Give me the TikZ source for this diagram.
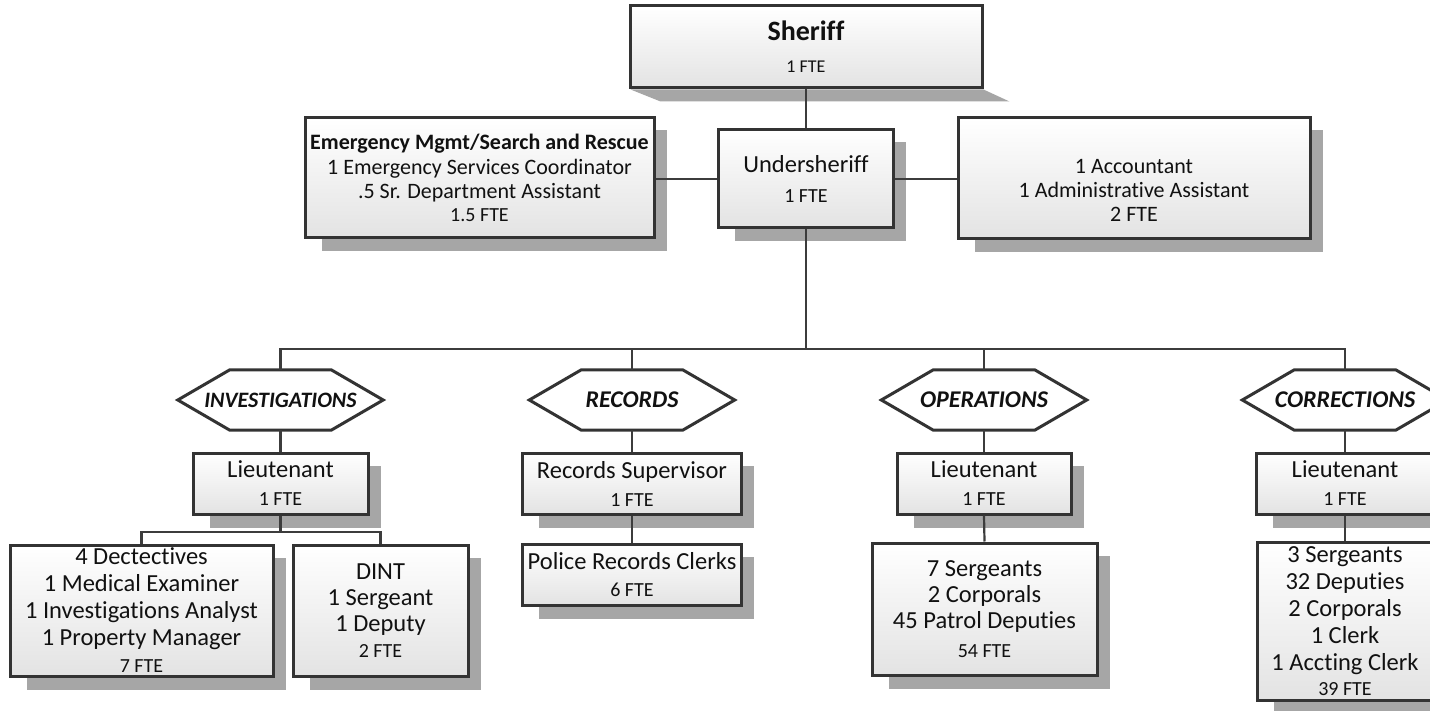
\documentclass[tikz,border=0pt]{standalone}
\usepackage{fontspec}
\setmainfont{Carlito}[Ligatures=NoCommon]
\usetikzlibrary{calc,backgrounds}

\definecolor{frame}{HTML}{333333}
\definecolor{wire}{HTML}{3C3C3C}
\definecolor{shadowgray}{HTML}{A6A6A6}
\definecolor{boxlow}{HTML}{E3E3E3}
\definecolor{ink}{HTML}{111111}

\newcommand\bodysize{\fontsize{24.5pt}{27pt}\selectfont}
\newcommand\ftesize{\fontsize{20pt}{22pt}\selectfont}

% offset shadow behind a box
\newcommand\castshadow[1]{%
  \fill[shadowgray] ($(#1.north east)+(11,14)$) rectangle ($(#1.south west)+(18,12)$);}
% hexagonal frame around a division label
\newcommand\hexframe[1]{%
  \draw[hexline] (#1.west) -- ([xshift=52pt]#1.north west) -- ([xshift=-52pt]#1.north east)
    -- (#1.east) -- ([xshift=-52pt]#1.south east) -- ([xshift=52pt]#1.south west) -- cycle;}

\tikzset{
  orgbox/.style={draw=frame, line width=3pt, top color=white, bottom color=boxlow,
    align=center, inner sep=0pt, text=ink, font=\bodysize},
  division/.style={inner sep=0pt, minimum width=205pt, minimum height=60pt,
    text=ink, font=\fontsize{24pt}{26pt}\selectfont\bfseries\itshape},
  hexline/.style={draw=frame, line width=3pt, line join=miter},
  link/.style={draw=wire, line width=2.2pt},
}

\begin{document}
\begin{tikzpicture}[x=1pt,y=-1pt]
\useasboundingbox (0,0) rectangle (1430,711);
\clip (0,0) rectangle (1430,711);

% top level
\node[orgbox, minimum width=352pt, minimum height=82pt, font=\fontsize{28pt}{32pt}\selectfont]
  (sheriff) at (806,47) {\bfseries Sheriff\\{\fontsize{18pt}{32pt}\selectfont 1 FTE}};
\node[orgbox, minimum width=175pt, minimum height=98pt, font=\fontsize{24.5pt}{30pt}\selectfont]
  (under) at (806,179) {Undersheriff\\{\ftesize 1 FTE}};
\node[orgbox, minimum width=349pt, minimum height=120pt, font=\fontsize{22pt}{24.5pt}\selectfont]
  (emerg) at (479.5,178)
  {\bfseries Emergency Mgmt/Search and Rescue\\
   1 Emergency Services Coordinator\\
   .5 Sr. Department Assistant\\[-2pt]
   {\ftesize 1.5 FTE}};
\node[orgbox, minimum width=352pt, minimum height=121pt] (acct) at (1134,178.5) {};
\node[align=center, text=ink, font=\fontsize{22pt}{24pt}\selectfont, yshift=-12pt]
  (accttext) at (acct.center) {1 Accountant\\1 Administrative Assistant\\2 FTE};

% divisions
\node[division, font=\fontsize{22pt}{24pt}\selectfont\bfseries\itshape] (inv) at (280.5,400) {INVESTIGATIONS};
\node[division] (rec) at (632,400) {RECORDS};
\node[division] (ops) at (984,400) {OPERATIONS};
\node[division] (cor) at (1345,400) {CORRECTIONS};
\hexframe{inv}
\hexframe{rec}
\hexframe{ops}
\hexframe{cor}

% unit heads
\node[orgbox, minimum width=175pt, minimum height=61pt, font=\fontsize{24.5pt}{28pt}\selectfont]
  (invlt) at (280.5,483.5) {Lieutenant\\{\ftesize 1 FTE}};
\node[orgbox, minimum width=219pt, minimum height=61pt, font=\fontsize{24.5pt}{28pt}\selectfont]
  (recsup) at (632,483.5) {Records Supervisor\\{\ftesize 1 FTE}};
\node[orgbox, minimum width=174pt, minimum height=61pt, font=\fontsize{24.5pt}{28pt}\selectfont]
  (opslt) at (984,483.5) {Lieutenant\\{\ftesize 1 FTE}};
\node[orgbox, minimum width=178pt, minimum height=61pt, font=\fontsize{24.5pt}{28pt}\selectfont]
  (corlt) at (1345,483.5) {Lieutenant\\{\ftesize 1 FTE}};

% staff boxes
\node[orgbox, minimum width=263pt, minimum height=131pt] (dect) at (141.5,610.5)
  {4 Dectectives\\1 Medical Examiner\\1 Investigations Analyst\\1 Property Manager\\{\ftesize 7 FTE}};
\node[orgbox, minimum width=175pt, minimum height=131pt, font=\fontsize{24.5pt}{26pt}\selectfont]
  (dint) at (380.5,610.5) {DINT\\1 Sergeant\\1 Deputy\\{\ftesize 2 FTE}};
\node[orgbox, minimum width=219pt, minimum height=61pt] (clerks) at (632,575)
  {Police Records Clerks\\{\ftesize 6 FTE}};
\node[orgbox, minimum width=225pt, minimum height=132pt, font=\fontsize{24.5pt}{26pt}\selectfont]
  (opsstaff) at (984.5,609) {7 Sergeants\\2 Corporals\\45 Patrol Deputies\\[3pt]{\ftesize 54 FTE}};
\node[orgbox, minimum width=176pt, minimum height=158pt] (corstaff) at (1345,621)
  {3 Sergeants\\32 Deputies\\2 Corporals\\1 Clerk\\1 Accting Clerk\\[-2pt]{\ftesize 39 FTE}};

% connectors
\coordinate (bus) at (806,349);
\coordinate (ibus) at (280.5,532);
\draw[link] (sheriff.south) -- (under.north);
\draw[link] (emerg.east |- under.west) -- (under.west);
\draw[link] (under.east) -- (acct.west |- under.east);
\draw[link] (under.south) -- (bus);
\draw[link] (inv.north) -- (inv.north |- bus) -- (cor.north |- bus) -- (cor.north);
\draw[link] (rec.north) -- (rec.north |- bus);
\draw[link] (ops.north) -- (ops.north |- bus);
\draw[link] (inv.south) -- (invlt.north);
\draw[link] (rec.south) -- (recsup.north);
\draw[link] (ops.south) -- (opslt.north);
\draw[link] (cor.south) -- (corlt.north);
\draw[link] (invlt.south) -- (ibus);
\draw[link] (dect.north) -- (dect.north |- ibus) -- (dint.north |- ibus) -- (dint.north);
\draw[link] (recsup.south) -- (clerks.north);
\draw[link] (opslt.south) -- (opsstaff.north);
\draw[link] (corlt.south) -- (corstaff.north);

% shadows and page
\begin{scope}[on background layer]
  \fill[white] (0,0) rectangle (1430,711);
  \fill[shadowgray] ($(sheriff.south west)+(2,0)$) -- (sheriff.south east)
    -- ++(26,12) -- ($(sheriff.south west)+(32,12)$) -- cycle;
  \castshadow{under}
  \castshadow{emerg}
  \castshadow{acct}
  \castshadow{invlt}
  \castshadow{recsup}
  \castshadow{opslt}
  \castshadow{corlt}
  \castshadow{dect}
  \castshadow{dint}
  \castshadow{clerks}
  \castshadow{opsstaff}
  \castshadow{corstaff}
\end{scope}
\end{tikzpicture}
\end{document}
